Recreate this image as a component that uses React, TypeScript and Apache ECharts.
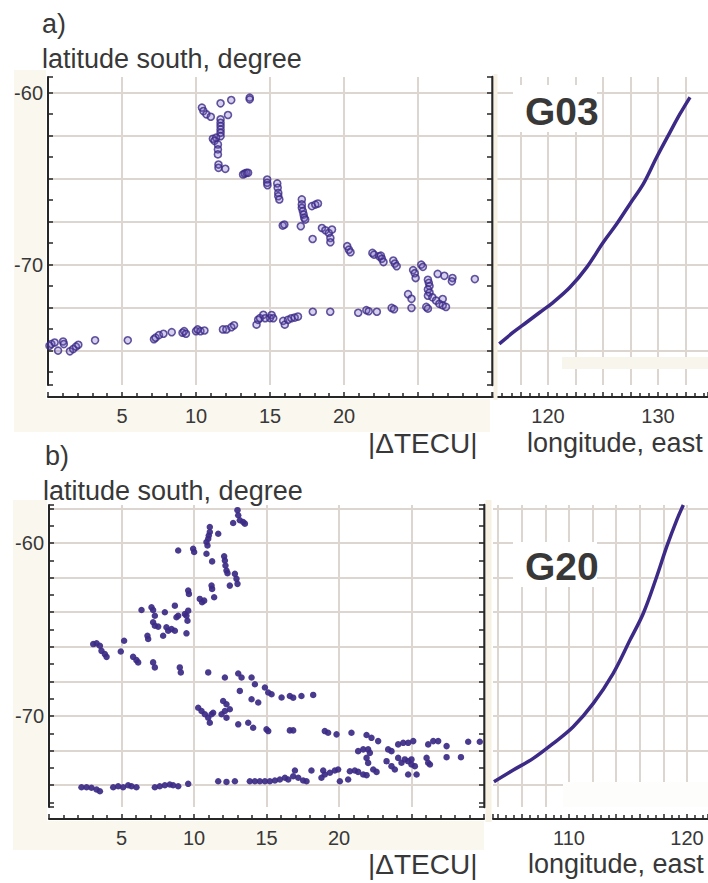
import React, { useEffect, useRef } from "react";
import * as echarts from "echarts";

const FONT = "'Liberation Sans', Arial, Helvetica, sans-serif";
const TEXT = "#383838";
const AXIS = "#262626";
const GRIDC = "#ddd6d0";
const DOT = "#3c2a86";

// ---- panel a) G03 : |dTEC| vs latitude ----
const g03Points: [number, number][] = [
  [10.4, -60.87], [10.5, -61.07], [10.7, -61.26], [11.0, -61.4], [11.66, -60.62], [12.38, -60.43],
  [13.63, -60.29], [13.63, -60.39], [12.16, -61.3],
  [11.66, -61.55], [11.66, -61.75], [11.66, -61.94], [11.66, -62.14], [11.66, -62.33], [11.66, -62.53],
  [11.14, -62.68], [11.36, -62.62], [11.25, -62.8],
  [11.48, -63.01], [11.48, -63.3], [11.48, -63.59],
  [11.52, -64.18], [11.52, -64.37], [11.98, -64.43],
  [13.18, -64.76], [13.29, -64.7], [13.41, -64.66], [13.52, -64.66],
  [14.81, -65.05], [14.81, -65.24], [14.83, -65.38],
  [15.49, -65.28], [15.52, -65.53], [15.56, -65.83], [15.56, -66.02], [15.63, -66.21],
  [17.15, -66.21], [17.15, -66.5], [17.15, -66.7], [17.22, -66.89], [17.27, -67.09], [17.31, -67.28], [17.38, -67.38],
  [17.83, -66.6], [18.06, -66.51], [18.24, -66.45],
  [15.86, -67.73], [15.97, -67.67], [17.08, -67.77], [17.88, -68.51],
  [18.51, -67.87], [18.74, -68.0], [18.97, -68.16], [19.19, -67.96], [19.08, -68.45], [19.08, -68.7],
  [20.22, -68.93], [20.33, -69.13], [20.44, -69.28],
  [21.92, -69.32], [22.03, -69.42], [22.37, -69.52],
  [22.49, -69.48], [22.56, -69.66], [22.67, -69.85],
  [23.33, -69.76], [23.44, -69.94], [23.56, -70.09],
  [24.67, -70.32], [24.78, -70.5], [24.84, -70.78],
  [25.22, -70.0], [25.33, -70.13],
  [25.67, -70.88], [25.73, -71.06], [25.78, -71.25], [25.67, -71.44], [25.78, -71.62], [25.67, -71.81],
  [26.33, -70.54], [26.78, -70.65], [27.33, -70.78], [27.29, -70.97], [28.84, -70.84],
  [24.33, -71.72], [24.56, -71.99],
  [25.97, -71.9], [26.22, -72.09], [26.44, -72.28], [26.67, -72.37], [26.89, -72.46], [26.67, -72.0],
  [24.56, -72.52], [25.56, -72.46], [25.67, -72.56],
  [0.1, -74.72], [0.23, -74.62], [0.45, -74.53], [0.68, -75.0], [1.02, -74.47], [1.07, -74.62],
  [1.48, -75.04], [1.7, -74.91], [1.89, -74.77], [2.05, -74.66],
  [3.18, -74.4], [5.39, -74.4],
  [7.16, -74.34], [7.27, -74.25], [7.5, -74.1], [7.8, -74.02], [8.36, -73.93],
  [9.09, -73.96], [9.2, -73.87], [9.32, -74.02],
  [10.0, -73.87], [10.11, -73.77], [10.3, -73.87], [10.57, -73.83],
  [11.82, -73.77], [12.05, -73.77], [12.39, -73.64], [12.57, -73.53],
  [14.09, -73.49], [14.2, -73.21], [14.32, -73.11], [14.55, -72.92], [15.0, -73.11],
  [14.67, -73.12], [15.11, -72.93], [15.22, -73.12],
  [15.89, -73.27], [16.0, -73.49], [16.22, -73.21], [16.44, -73.12], [16.67, -73.08], [16.89, -73.02],
  [17.89, -72.74], [19.07, -72.74], [20.96, -72.8],
  [21.51, -72.65], [21.67, -72.71], [22.22, -72.74],
  [23.22, -72.52], [23.38, -72.59],
];

// ---- panel a) G03 : sub-ionospheric track (longitude, latitude) ----
const g03Track: [number, number][] = [
  [115.57, -74.61], [116.85, -73.93], [118.06, -73.35], [119.27, -72.77], [120.48, -72.19],
  [122.0, -71.32], [123.52, -70.16], [125.03, -68.7], [126.24, -67.64], [127.45, -66.47],
  [128.67, -65.31], [129.88, -63.76], [131.09, -62.31], [132.0, -61.24], [132.91, -60.27],
];

// ---- panel b) G20 : |dTEC| vs latitude ----
const g20Points: [number, number][] = [
  [13.0, -58.1], [13.05, -58.39], [12.7, -58.84], [13.16, -58.68], [13.39, -58.78], [13.51, -58.88],
  [11.09, -59.07], [11.09, -59.36], [11.02, -59.56], [10.98, -59.75], [10.86, -59.94], [10.93, -60.14], [11.67, -59.46],
  [8.91, -60.43], [9.94, -60.33], [10.01, -60.52], [10.86, -60.62], [11.25, -61.06],
  [12.08, -60.77], [12.13, -61.01], [12.17, -61.3], [12.24, -61.59], [12.31, -61.74],
  [12.82, -61.78], [12.93, -62.07], [13.0, -62.36], [12.47, -62.46],
  [9.6, -62.75], [9.65, -62.94],
  [11.21, -62.46], [11.25, -62.65], [11.39, -63.13],
  [10.4, -63.23], [10.56, -63.42], [10.7, -63.33],
  [6.38, -63.87], [7.07, -63.71], [7.18, -63.87], [7.3, -64.2], [7.99, -64.0], [8.68, -63.62],
  [8.79, -64.29], [8.91, -64.2], [9.37, -64.1], [9.48, -64.2], [9.55, -64.49], [9.6, -63.91],
  [7.18, -64.58], [7.3, -64.78], [7.53, -64.83],
  [8.1, -64.87], [8.22, -65.07], [8.45, -64.97], [8.68, -65.07], [7.87, -65.36], [9.48, -65.22],
  [6.84, -65.55], [6.79, -65.36], [5.18, -65.65],
  [3.05, -65.84], [3.28, -65.8], [3.51, -65.94], [3.62, -66.23], [3.85, -66.42], [3.97, -66.58],
  [4.95, -66.27], [5.8, -66.58], [6.03, -66.77], [6.15, -66.9],
  [7.18, -66.9], [7.3, -67.19], [9.02, -67.19], [9.09, -67.48], [10.98, -67.48],
  [12.13, -67.77], [13.05, -67.54], [13.28, -67.77], [13.97, -67.77], [14.2, -68.16],
  [13.16, -68.55], [13.97, -69.03], [14.43, -69.22], [14.89, -68.35], [15.12, -68.64], [15.35, -68.74],
  [16.04, -68.93], [16.61, -68.84], [16.84, -68.94], [17.41, -68.84], [18.22, -68.78],
  [12.01, -69.13], [12.24, -69.32], [12.47, -69.61], [11.9, -69.9],
  [10.29, -69.52], [10.52, -69.71], [10.75, -69.9], [10.98, -70.1], [11.09, -70.39], [11.21, -69.9], [11.32, -69.81],
  [12.13, -69.71], [12.24, -70.1],
  [13.05, -70.48], [13.74, -70.39], [14.08, -70.68], [15.0, -70.77], [15.12, -70.87],
  [16.61, -70.83], [16.84, -70.83],
  [19.02, -70.87], [19.25, -70.97], [19.83, -71.06], [20.86, -70.97],
  [21.9, -71.1], [22.24, -71.26], [22.7, -71.45],
  [23.39, -71.93], [23.62, -72.03], [24.08, -71.64], [24.43, -71.55], [24.77, -71.55], [25.12, -71.45],
  [26.15, -71.64], [26.5, -71.45], [26.84, -71.45], [27.42, -71.74], [28.91, -71.49], [29.71, -71.49],
  [21.32, -72.03], [21.67, -71.93], [22.01, -71.93], [22.13, -72.13], [21.9, -72.42], [22.01, -72.71],
  [23.28, -72.61], [23.62, -72.9], [23.85, -73.09], [24.08, -72.42], [24.31, -72.7], [24.54, -72.51],
  [24.77, -72.61], [25.0, -72.8], [25.23, -72.9], [25.0, -72.51], [24.77, -73.38], [25.35, -73.38],
  [26.04, -72.42], [26.15, -72.7], [26.27, -72.8], [27.42, -72.38], [28.41, -72.38],
  [2.24, -74.12], [2.59, -74.12], [2.93, -74.15], [3.28, -74.25], [3.51, -74.35],
  [4.43, -74.12], [4.77, -74.06], [5.11, -74.12], [5.46, -74.0], [5.69, -74.06], [6.03, -74.12],
  [7.3, -74.12], [7.64, -74.06], [7.99, -74.0], [8.33, -73.96], [8.56, -74.0], [8.91, -74.06], [9.6, -73.92],
  [11.67, -73.77], [12.24, -73.81], [12.82, -73.77],
  [13.85, -73.77], [14.2, -73.77], [14.54, -73.77], [14.89, -73.77], [15.23, -73.77], [15.58, -73.73],
  [15.92, -73.67], [16.27, -73.57], [16.5, -73.67], [16.84, -73.48], [16.96, -73.15], [17.19, -73.57],
  [17.53, -73.73], [17.76, -73.77], [18.1, -73.15],
  [18.79, -73.57], [19.02, -73.38], [18.91, -73.15], [19.37, -73.28], [19.71, -73.15], [19.94, -73.09],
  [20.06, -73.77], [20.63, -73.67], [20.75, -73.19], [21.09, -73.15], [21.32, -73.23], [21.67, -73.38],
  [21.9, -73.42], [22.36, -73.09], [22.59, -73.23],
];

// ---- panel b) G20 : sub-ionospheric track ----
const g20Track: [number, number][] = [
  [103.64, -73.8], [105.28, -73.12], [106.97, -72.45], [108.67, -71.58], [110.36, -70.62],
  [112.06, -69.27], [113.75, -67.53], [115.17, -65.61], [116.3, -64.06], [117.43, -61.95],
  [118.28, -60.21], [119.13, -58.67], [119.69, -57.8],
];

const latLabels = [-60, -70];
const tecuLabels = [5, 10, 15, 20];
const lonLabelsA = [120, 130];
const lonLabelsB = [110, 120];

const tickStyle = { color: AXIS, width: 1.5 };
const gridLine = { show: true, showMinLine: false, showMaxLine: false, lineStyle: { color: GRIDC, width: 2 } };

function latAxis(gi: number, min: number, max: number, step: number, kind: "main" | "edge" | "hidden") {
  const base: any = {
    type: "value", gridIndex: gi, min, max, minInterval: step, maxInterval: step, splitNumber: 8,
    position: kind === "edge" ? "right" : "left",
  };
  if (kind === "main") {
    return {
      ...base,
      axisLine: { show: true, onZero: false, lineStyle: { color: AXIS, width: 2 } },
      axisTick: { show: true, inside: true, length: 5, lineStyle: tickStyle },
      minorTick: { show: true, splitNumber: 2, length: 5, lineStyle: tickStyle },
      axisLabel: {
        show: true, margin: 5, fontSize: 20, color: TEXT, fontFamily: FONT,
        formatter: (v: number) => (latLabels.includes(v) ? String(v) : ""),
      },
      splitLine: gridLine,
    };
  }
  if (kind === "edge") {
    return {
      ...base,
      axisLine: { show: true, onZero: false, lineStyle: { color: AXIS, width: 2.5 } },
      axisTick: { show: true, inside: true, length: 5, lineStyle: tickStyle },
      minorTick: { show: true, splitNumber: 2, length: 5, lineStyle: tickStyle },
      axisLabel: { show: false },
      splitLine: { show: false },
    };
  }
  return {
    ...base,
    axisLine: { show: false }, axisTick: { show: false }, axisLabel: { show: false },
    splitLine: gridLine,
  };
}

function xAxis(gi: number, min: number, max: number, step: number, minorSplit: number, labels: number[], fixedInterval: boolean) {
  const ax: any = {
    type: "value", gridIndex: gi, min, max, offset: 12, position: "bottom",
    axisLine: { show: true, onZero: false, lineStyle: { color: AXIS, width: 2 } },
    axisTick: { show: true, inside: true, length: 5, lineStyle: tickStyle },
    minorTick: { show: true, splitNumber: minorSplit, length: 4, lineStyle: tickStyle },
    axisLabel: {
      show: true, margin: 9, fontSize: 20, color: TEXT, fontFamily: FONT,
      formatter: (v: number) => (labels.includes(v) ? String(v) : ""),
    },
    splitLine: gridLine,
  };
  if (fixedInterval) ax.interval = step;
  else { ax.minInterval = step; ax.maxInterval = step; ax.splitNumber = 9; }
  return ax;
}

function txt(x: number, y: number, s: string, size: number, weight: string = "normal") {
  return {
    type: "text", x, y, z: 20, silent: true,
    style: {
      text: s, fill: TEXT, fontSize: size, fontFamily: FONT, fontWeight: weight,
      textAlign: "left", textVerticalAlign: "middle", align: "left", verticalAlign: "middle",
    },
  };
}
function box(x: number, y: number, w: number, h: number, fill: string, z: number) {
  return { type: "rect", z, silent: true, shape: { x, y, width: w, height: h }, style: { fill } };
}

export default function App() {
  const ref = useRef<HTMLDivElement>(null);
  useEffect(() => {
    document.body.style.margin = "0";
    if (!ref.current) return;
    const chart = echarts.init(ref.current, undefined, { renderer: "svg" });
    const A = { min: -77, max: -59.09 };
    const B = { min: -75.26, max: -57.8 };
    const option: any = {
      animation: false,
      backgroundColor: "#ffffff",
      grid: [
        { left: 48, top: 77, width: 444, height: 308, containLabel: false, outerBoundsMode: "none" },
        { left: 493, top: 77, width: 215, height: 308, containLabel: false, outerBoundsMode: "none" },
        { left: 49, top: 505, width: 435, height: 302, containLabel: false, outerBoundsMode: "none" },
        { left: 493, top: 505, width: 215, height: 302, containLabel: false, outerBoundsMode: "none" },
      ],
      xAxis: [
        xAxis(0, 0, 30, 5, 5, tecuLabels, true),
        xAxis(1, 115, 134.55, 2.5, 3, lonLabelsA, true),
        xAxis(2, 0, 30, 5, 5, tecuLabels, true),
        xAxis(3, 103.56, 121.78, 2, 3, lonLabelsB, false),
      ],
      yAxis: [
        latAxis(0, A.min, A.max, 2.5, "main"),
        latAxis(0, A.min, A.max, 2.5, "edge"),
        latAxis(1, A.min, A.max, 2.5, "hidden"),
        latAxis(2, B.min, B.max, 2, "main"),
        latAxis(2, B.min, B.max, 2, "edge"),
        latAxis(3, B.min, B.max, 2, "hidden"),
      ],
      series: [
        {
          type: "scatter", xAxisIndex: 0, yAxisIndex: 0, data: g03Points, symbol: "circle", symbolSize: 7,
          itemStyle: { color: "rgba(110,90,190,0.35)", borderColor: DOT, borderWidth: 1.6 }, z: 3, silent: true,
        },
        {
          type: "line", xAxisIndex: 1, yAxisIndex: 2, data: g03Track, smooth: 0.35, showSymbol: false,
          lineStyle: { color: DOT, width: 3.5 }, z: 3, silent: true,
        },
        {
          type: "scatter", xAxisIndex: 2, yAxisIndex: 3, data: g20Points, symbol: "circle", symbolSize: 6.5,
          itemStyle: { color: DOT, opacity: 0.92 }, z: 3, silent: true,
        },
        {
          type: "line", xAxisIndex: 3, yAxisIndex: 5, data: g20Track, smooth: 0.35, showSymbol: false,
          lineStyle: { color: DOT, width: 3.5 }, z: 3, silent: true,
        },
      ],
      graphic: [
        box(14, 70, 32, 362, "#faf7ee", -1),
        box(14, 399, 476, 33, "#faf7ee", -1),
        box(493.5, 74, 4, 326, "#f6f1e2", 1),
        box(562, 357, 146, 12, "#f8f5ec", 1),
        box(13, 500, 34, 350, "#faf7ee", -1),
        box(13, 821, 471, 29, "#faf7ee", -1),
        box(485.5, 500, 6, 322, "#f6f1e2", 1),
        box(563, 782, 145, 25, "#fdfdfb", 1),
        box(513, 85, 84, 47, "#ffffff", 5),
        box(513, 542, 84, 45, "#ffffff", 5),
        txt(42, 24, "a)", 27),
        txt(42, 59, "latitude south, degree", 27),
        txt(525, 111, "G03", 39, "bold"),
        txt(368, 443, "|ΔTECU|", 28),
        txt(527, 443, "longitude, east", 27),
        txt(45, 456, "b)", 27),
        txt(43, 491, "latitude south, degree", 27),
        txt(525, 566, "G20", 39, "bold"),
        txt(368, 864, "|ΔTECU|", 28),
        txt(528, 864, "longitude, east", 27),
      ],
    };
    chart.setOption(option);
    return () => chart.dispose();
  }, []);
  return <div ref={ref} style={{ width: 708, height: 883 }} />;
}
